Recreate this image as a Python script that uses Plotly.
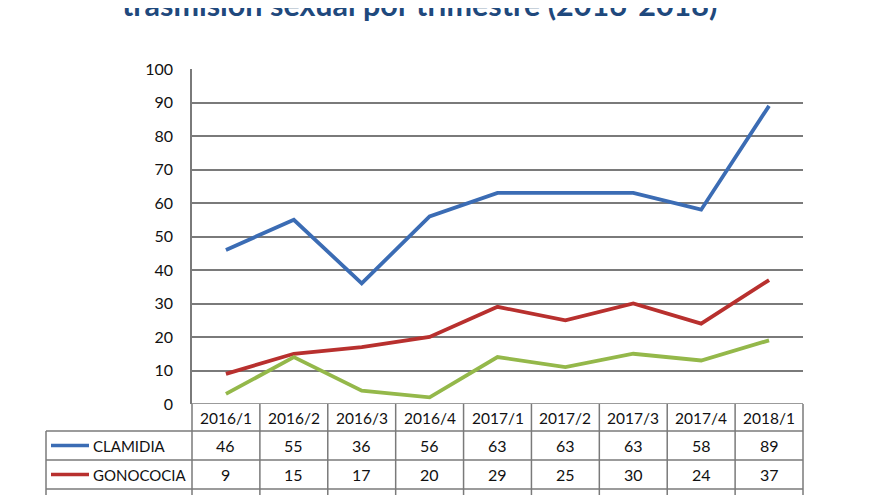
import plotly.graph_objects as go

# ---------------- data ----------------
quarters = ["2016/1", "2016/2", "2016/3", "2016/4", "2017/1", "2017/2", "2017/3", "2017/4", "2018/1"]
clamidia = [46, 55, 36, 56, 63, 63, 63, 58, 89]
gonococia = [9, 15, 17, 20, 29, 25, 30, 24, 37]
sifilis = [3, 14, 4, 2, 14, 11, 15, 13, 19]
series_names = ["CLAMIDIA", "GONOCOCIA", "SÍFILIS"]
y_ticks = [0, 10, 20, 30, 40, 50, 60, 70, 80, 90, 100]
title_text = "trasmisión sexual por trimestre (2016-2018)"

# ---------------- layout constants (screen pixels) ----------------
W, H = 880, 495
PAGE_OFF = 8  # default body margin of the html page
PLOT_L, PLOT_R, PLOT_T, PLOT_B = 192, 803, 69, 404
TABLE_L = 46
ROW_EDGES_PX = [PLOT_B, 431, 460, 489, 530]
LEG_X0, LEG_X1, LABEL_X = 51, 89, 91
TITLE_X, TITLE_Y = 419, 4
VISIBLE_ROWS = 2  # third table row lies below the visible canvas

colors = ["#3B6CB4", "#B8302E", "#94B84A"]
GRID = "#7a7a7a"
FONT = "Lato"

n = len(quarters)
col_w = (PLOT_R - PLOT_L) / n
x2_lo = -0.5 - (PLOT_L - PAGE_OFF) / col_w
x2_hi = x2_lo + W / col_w


def px2x(px):
    return -0.5 + (px - PLOT_L) / col_w


def py(px):
    return 1 - (px - PAGE_OFF) / H


def pxp(px):
    return (px - PAGE_OFF) / W


fig = go.Figure()
all_series = [clamidia, gonococia, sifilis]
for name, vals, c in zip(series_names, all_series, colors):
    fig.add_trace(go.Scatter(x=quarters, y=vals, name=name, mode="lines",
                             line=dict(color=c, width=3.8), showlegend=False,
                             xaxis="x", yaxis="y"))
fig.add_trace(go.Scatter(x=[0], y=[0], xaxis="x2", yaxis="y2", mode="markers",
                         marker=dict(opacity=0), showlegend=False, hoverinfo="skip"))

shapes = []
line_style = dict(color=GRID, width=1.5)
for e in ROW_EDGES_PX[1:-1]:
    shapes.append(dict(type="line", xref="x2", yref="paper",
                       x0=px2x(TABLE_L), x1=px2x(PLOT_R), y0=py(e), y1=py(e), line=line_style))
for k in range(n + 1):
    shapes.append(dict(type="line", xref="x2", yref="paper",
                       x0=k - 0.5, x1=k - 0.5, y0=py(PLOT_B), y1=py(ROW_EDGES_PX[-1]), line=line_style))
shapes.append(dict(type="line", xref="x2", yref="paper",
                   x0=px2x(TABLE_L), x1=px2x(TABLE_L), y0=py(ROW_EDGES_PX[1]), y1=py(ROW_EDGES_PX[-1]),
                   line=line_style))
for r, c in enumerate(colors[:VISIBLE_ROWS]):
    yc = py((ROW_EDGES_PX[r + 1] + ROW_EDGES_PX[r + 2]) / 2)
    shapes.append(dict(type="line", xref="x2", yref="paper",
                       x0=px2x(LEG_X0), x1=px2x(LEG_X1), y0=yc, y1=yc,
                       line=dict(color=c, width=3.6)))

annotations = []
cell_font = dict(family=FONT, size=15.5, color="#111")
yh = py((ROW_EDGES_PX[0] + ROW_EDGES_PX[1]) / 2)
for q in quarters:
    annotations.append(dict(x=q, xref="x", y=yh, yref="paper", text=q, showarrow=False,
                            font=cell_font, xanchor="center", yanchor="middle"))
for r, (name, vals) in enumerate(zip(series_names[:VISIBLE_ROWS], all_series[:VISIBLE_ROWS])):
    yc = py((ROW_EDGES_PX[r + 1] + ROW_EDGES_PX[r + 2]) / 2)
    annotations.append(dict(x=px2x(LABEL_X), xref="x2", y=yc, yref="paper", text=name,
                            showarrow=False, font=dict(family=FONT, size=15, color="#111"),
                            xanchor="left", yanchor="middle"))
    for q, v in zip(quarters, vals):
        annotations.append(dict(x=q, xref="x", y=yc, yref="paper", text=str(v), showarrow=False,
                                font=dict(family=FONT, size=16, color="#111"),
                                xanchor="center", yanchor="middle"))
annotations.append(dict(x=pxp(TITLE_X), xref="paper", y=py(TITLE_Y), yref="paper",
                        text="<b>" + title_text + "</b>",
                        showarrow=False, font=dict(family=FONT, size=30.5, color="#1F497D"),
                        xanchor="center", yanchor="middle"))

fig.update_layout(
    width=W, height=H,
    margin=dict(l=0, r=0, t=0, b=0, autoexpand=False),
    paper_bgcolor="white", plot_bgcolor="rgba(0,0,0,0)",
    xaxis=dict(domain=[pxp(PLOT_L), pxp(PLOT_R)], type="category", categoryorder="array",
               categoryarray=quarters, range=[-0.5, n - 0.5], showticklabels=False,
               showgrid=False, zeroline=False, showline=False, ticks="", automargin=False),
    xaxis2=dict(domain=[0, 1], range=[x2_lo, x2_hi], anchor="y2", visible=False, automargin=False),
    yaxis2=dict(domain=[0, 1], range=[0, 1], anchor="x2", visible=False, automargin=False),
    yaxis=dict(domain=[py(PLOT_B), py(PLOT_T)], range=[0, 100], tickvals=y_ticks,
               showgrid=True, gridcolor=GRID, gridwidth=1.5, zeroline=False,
               showline=True, linecolor=GRID, linewidth=1.5, ticks="",
               ticklabelstandoff=14, automargin=False,
               tickfont=dict(family=FONT, size=16, color="#111")),
    shapes=shapes, annotations=annotations,
)
fig.add_shape(type="line", xref="x", yref="y", x0=-0.5, x1=n - 0.5, y0=0, y1=0,
              line=line_style)

fig.write_html("out.html")
